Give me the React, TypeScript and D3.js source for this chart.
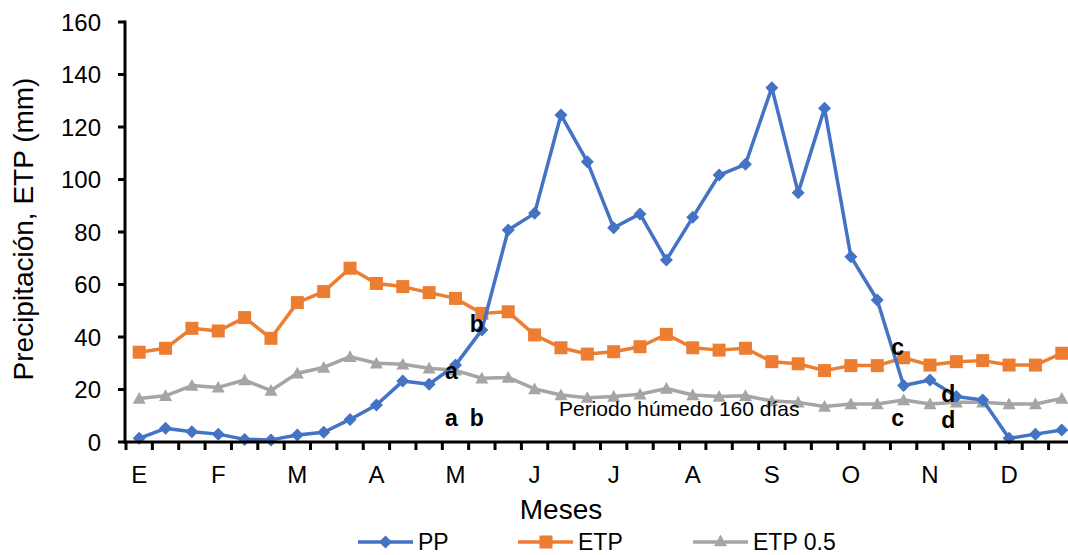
import React from "react";
import * as d3 from "d3";

// Ten-day (decadal) periods across the year, three per month
const months = ["E", "F", "M", "A", "M", "J", "J", "A", "S", "O", "N", "D"];

const pp = [1.4, 5.2, 3.9, 3.0, 1.0, 0.8, 2.7, 3.7, 8.6, 14.1, 23.2, 22.0, 29.3, 42.7, 80.8, 87.1, 124.6, 106.8,
  81.6, 86.9, 69.3, 85.6, 101.7, 105.8, 135.0, 95.0, 127.1, 70.6, 54.1, 21.5, 23.6, 17.3, 16.0, 1.4, 3.0, 4.6];

const etp = [34.2, 35.7, 43.3, 42.3, 47.4, 39.5, 53.1, 57.3, 66.2, 60.4, 59.2, 56.9, 54.7, 49.0, 49.6, 40.8, 35.9, 33.5,
  34.4, 36.3, 41.0, 35.9, 35.0, 35.7, 30.6, 29.8, 27.2, 29.1, 29.1, 32.1, 29.3, 30.6, 31.0, 29.3, 29.3, 33.8];

const etpHalf = [16.6, 17.6, 21.5, 20.8, 23.6, 19.6, 26.2, 28.4, 32.5, 30.0, 29.6, 28.1, 27.3, 24.3, 24.6, 20.2, 17.9, 16.9,
  17.3, 18.2, 20.4, 17.9, 17.3, 17.6, 15.6, 15.1, 13.5, 14.5, 14.5, 16.0, 14.5, 15.1, 15.1, 14.5, 14.5, 16.6];

const yTicks = [0, 20, 40, 60, 80, 100, 120, 140, 160];

// Period markers: label, decade index, horizontal nudge, baseline row
const markers = [
  { text: "b", idx: 13, dx: -5, y: 332 },
  { text: "a", idx: 12, dx: -4, y: 379 },
  { text: "a", idx: 12, dx: -4, y: 426 },
  { text: "b", idx: 13, dx: -5, y: 426 },
  { text: "c", idx: 29, dx: -6, y: 355 },
  { text: "d", idx: 31, dx: -8, y: 402 },
  { text: "c", idx: 29, dx: -6, y: 426 },
  { text: "d", idx: 31, dx: -8, y: 428 },
];

const W = 1068;
const H = 555;
const left = 126;
const step = 26.36;
const top = 22;
const bottom = 442;

const FONT = "'Liberation Sans', Arial, sans-serif";

const BLUE = "#4472C4";
const ORANGE = "#ED7D31";
const GRAY = "#A5A5A5";

export default function App() {
  const idx = d3.range(pp.length);
  const x = d3.scaleBand<number>().domain(idx).range([left, left + step * idx.length]).padding(0);
  const cx = (i: number) => (x(i) as number) + x.bandwidth() / 2;
  const y = d3.scaleLinear().domain([0, 160]).range([bottom, top]);

  const line = d3.line<number>().x((_, i) => cx(i)).y((v) => y(v));

  const diamond = (px: number, py: number, r = 6.5) =>
    `M${px},${py - r}L${px + r},${py}L${px},${py + r}L${px - r},${py}Z`;
  const triangle = (px: number, py: number, s = 6.5) =>
    `M${px},${py - s}L${px + s},${py + s * 0.8}L${px - s},${py + s * 0.8}Z`;

  const boundaries = d3.range(idx.length + 1).map((i) => left + step * i);

  return (
    <svg width={W} height={H} style={{ position: "absolute", left: 0, top: 0, background: "#fff" }}
      fontFamily={FONT}>
      <rect width={W} height={H} fill="#fff" />

      {/* ETP 0.5 */}
      <path d={line(etpHalf) || ""} fill="none" stroke={GRAY} strokeWidth={3.5} strokeLinejoin="round" />
      {etpHalf.map((v, i) => (
        <path key={`g${i}`} d={triangle(cx(i), y(v))} fill={GRAY} />
      ))}

      {/* ETP */}
      <path d={line(etp) || ""} fill="none" stroke={ORANGE} strokeWidth={3.5} strokeLinejoin="round" />
      {etp.map((v, i) => (
        <rect key={`o${i}`} x={cx(i) - 6.5} y={y(v) - 6.5} width={13} height={13} fill={ORANGE} />
      ))}

      {/* PP */}
      <path d={line(pp) || ""} fill="none" stroke={BLUE} strokeWidth={3.5} strokeLinejoin="round" />
      {pp.map((v, i) => (
        <path key={`b${i}`} d={diamond(cx(i), y(v))} fill={BLUE} />
      ))}

      {/* Y axis */}
      <line x1={left - 1} x2={left - 1} y1={top - 1.5} y2={bottom + 1.5} stroke="#000" strokeWidth={3} />
      {yTicks.map((t) => (
        <g key={`yt${t}`}>
          <line x1={left - 8} x2={left - 1} y1={y(t)} y2={y(t)} stroke="#000" strokeWidth={3} />
          <text x={101} y={y(t)} dy="0.36em" textAnchor="end" fontSize={24} fill="#000">{t}</text>
        </g>
      ))}

      {/* X axis */}
      <line x1={left - 2.5} x2={W} y1={bottom} y2={bottom} stroke="#000" strokeWidth={3} />
      {boundaries.map((bx, i) => (
        <line key={`xt${i}`} x1={bx} x2={bx} y1={bottom} y2={bottom + 8} stroke="#000" strokeWidth={3} />
      ))}
      {months.map((m, k) => (
        <text key={`m${k}`} x={cx(k * 3)} y={483} textAnchor="middle" fontSize={24} fill="#000">{m}</text>
      ))}

      {/* Axis titles */}
      <text x={561} y={519} textAnchor="middle" fontSize={28} fill="#000">Meses</text>
      <text transform={`translate(33,229) rotate(-90)`} textAnchor="middle" fontSize={28} fill="#000">
        Precipitación, ETP (mm)
      </text>

      {/* Annotations */}
      <text x={559} y={416} fontSize={21} fill="#000">Periodo húmedo 160 días</text>
      {markers.map((m, k) => (
        <text key={`lab${k}`} x={cx(m.idx) + m.dx} y={m.y} textAnchor="middle" fontSize={23}
          fontWeight="bold" fill="#000">{m.text}</text>
      ))}

      {/* Legend */}
      <g>
        <line x1={358} x2={413} y1={542} y2={542} stroke={BLUE} strokeWidth={3.5} />
        <path d={diamond(385.5, 542)} fill={BLUE} />
        <text x={418} y={550} fontSize={23} fill="#000">PP</text>

        <line x1={518} x2={573} y1={542} y2={542} stroke={ORANGE} strokeWidth={3.5} />
        <rect x={539.5} y={535.5} width={13} height={13} fill={ORANGE} />
        <text x={578} y={550} fontSize={23} fill="#000">ETP</text>

        <line x1={693} x2={748} y1={542} y2={542} stroke={GRAY} strokeWidth={3.5} />
        <path d={triangle(720.5, 541)} fill={GRAY} />
        <text x={753} y={550} fontSize={23} fill="#000">ETP 0.5</text>
      </g>
    </svg>
  );
}
